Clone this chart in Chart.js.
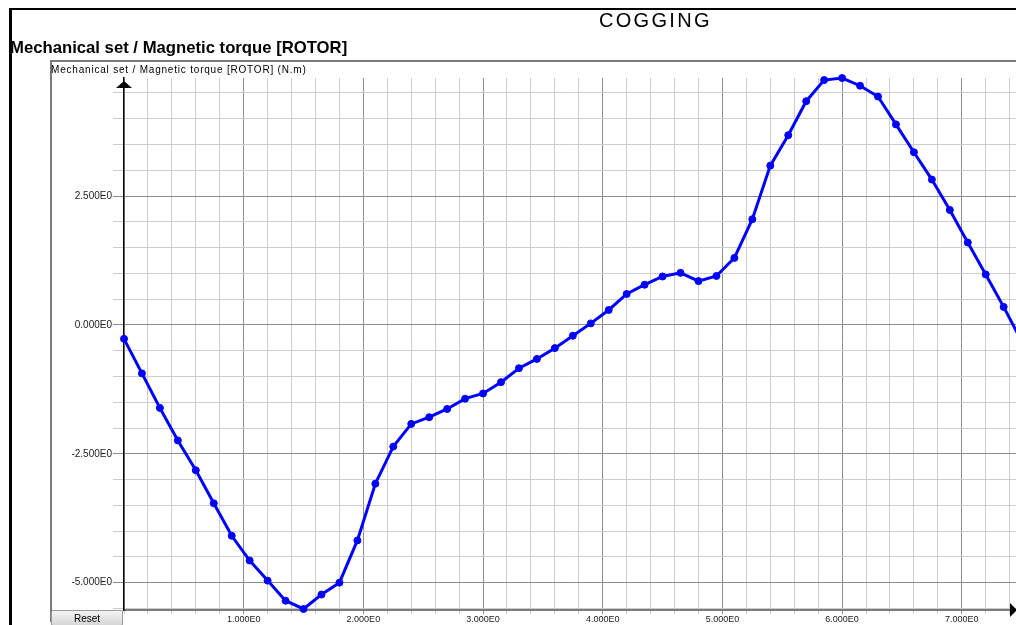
<!DOCTYPE html>
<html>
<head>
<meta charset="utf-8">
<title>COGGING</title>
<script src="https://cdn.jsdelivr.net/npm/chart.js@4.4.1/dist/chart.umd.min.js"></script>
<style>
    html, body { margin: 0; padding: 0; background: #fff; }
    body { width: 1016px; height: 625px; position: relative; overflow: hidden; font-family: "Liberation Sans", Arial, sans-serif; }
    #frame { position: absolute; left: 9px; top: 8px; width: 1100px; height: 700px; border-left: 3px solid #000; border-top: 2px solid #000; }
    #box { position: absolute; left: 50px; top: 60px; width: 1100px; height: 560px; border-left: 2px solid #7a7a7a; border-top: 2px solid #7a7a7a; }
    #cogChart { position: absolute; left: 0; top: 0; }
    .txt { position: absolute; white-space: nowrap; color: #000; }
    #mainTitle { left: 599px; top: 10px; font-size: 20px; line-height: 20px; letter-spacing: 2.3px; }
    #subTitle { left: 10px; top: 40px; font-size: 16.7px; line-height: 16px; font-weight: bold; }
    #axisTitle { left: 51px; top: 65px; font-size: 10px; line-height: 10px; letter-spacing: 0.8px; }
    #resetBtn { position: absolute; left: 51px; top: 610px; width: 72px; height: 16px; margin: 0; padding: 0;
        border: 1px solid #9a9a9a; border-radius: 2px; background: linear-gradient(#f4f4f4, #d6d6d6);
        font: 10px "Liberation Sans", Arial, sans-serif; color: #000; }
</style>
</head>
<body>
<div id="frame"></div>
<div id="box"></div>
<canvas id="cogChart" width="1016" height="625"></canvas>
<div class="txt" id="mainTitle">COGGING</div>
<div class="txt" id="subTitle">Mechanical set / Magnetic torque [ROTOR]</div>
<div class="txt" id="axisTitle">Mechanical set / Magnetic torque [ROTOR] (N.m)</div>
<button id="resetBtn">Reset</button>
<script>
// Rotor position (x) and cogging torque in N.m (y)
const angles = [
    0.00, 0.15, 0.30, 0.45, 0.60, 0.75, 0.90, 1.05, 1.20, 1.35,
    1.50, 1.65, 1.80, 1.95, 2.10, 2.25, 2.40, 2.55, 2.70, 2.85,
    3.00, 3.15, 3.30, 3.45, 3.60, 3.75, 3.90, 4.05, 4.20, 4.35,
    4.50, 4.65, 4.80, 4.95, 5.10, 5.25, 5.40, 5.55, 5.70, 5.85,
    6.00, 6.15, 6.30, 6.45, 6.60, 6.75, 6.90, 7.05, 7.20, 7.35,
    7.50
];
const torque = [
    -0.27, -0.94, -1.61, -2.24, -2.82, -3.46, -4.09, -4.57, -4.96, -5.35,
    -5.51, -5.23, -5.00, -4.18, -3.08, -2.36, -1.92, -1.79, -1.63, -1.43,
    -1.33, -1.11, -0.84, -0.66, -0.45, -0.21, 0.03, 0.29, 0.60, 0.78,
    0.94, 1.01, 0.85, 0.95, 1.30, 2.05, 3.09, 3.68, 4.34, 4.75,
    4.79, 4.64, 4.43, 3.89, 3.35, 2.82, 2.23, 1.60, 0.98, 0.35,
    -0.32
];

// Labelled (major) ticks
const xMajorTicks = [1, 2, 3, 4, 5, 6, 7];
const xTickLabels = ['1.000E0', '2.000E0', '3.000E0', '4.000E0', '5.000E0', '6.000E0', '7.000E0'];
const yMajorTicks = [-5, -2.5, 0, 2.5];
const yTickLabels = ['-5.000E0', '-2.500E0', '0.000E0', '2.500E0'];

const MAJOR_GRID = '#8c8c8c';
const MINOR_GRID = '#cdcdcd';

const findMajor = (list, v) => list.findIndex(m => Math.abs(m - v) < 1e-6);

// Axis arrows at the end of both axes
const axisArrows = {
    id: 'axisArrows',
    afterDraw(chart) {
        const { ctx, chartArea } = chart;
        ctx.save();
        ctx.fillStyle = '#000';
        // up arrow on the y axis
        ctx.beginPath();
        ctx.moveTo(chartArea.left, chartArea.top + 3);
        ctx.lineTo(chartArea.left - 8, chartArea.top + 10);
        ctx.lineTo(chartArea.left + 8, chartArea.top + 10);
        ctx.closePath();
        ctx.fill();
        // right arrow on the x axis
        ctx.beginPath();
        ctx.moveTo(chartArea.right + 1, chartArea.bottom);
        ctx.lineTo(chartArea.right - 6, chartArea.bottom - 7);
        ctx.lineTo(chartArea.right - 6, chartArea.bottom + 7);
        ctx.closePath();
        ctx.fill();
        ctx.restore();
    }
};

const ctx = document.getElementById('cogChart').getContext('2d');
new Chart(ctx, {
    type: 'line',
    data: {
        datasets: [{
            data: angles.map((a, i) => ({ x: a, y: torque[i] })),
            borderColor: '#0000ff',
            backgroundColor: '#0000ff',
            borderWidth: 3,
            tension: 0,
            pointRadius: 3.5,
            pointBorderWidth: 1,
            pointBackgroundColor: '#0000ff',
            pointBorderColor: '#0000ff',
            clip: false
        }]
    },
    options: {
        responsive: false,
        animation: false,
        devicePixelRatio: 1,
        layout: { autoPadding: false, padding: { top: 78, left: 0, right: 0, bottom: 0 } },
        plugins: {
            legend: { display: false },
            tooltip: { enabled: false },
            title: { display: false }
        },
        scales: {
            x: {
                type: 'linear',
                min: 0,
                max: 7.453,
                afterFit: (scale) => {
                    scale.height = 15;
                    scale.paddingLeft = 0;
                    scale.paddingRight = 0;
                },
                border: { color: '#7a7a7a', width: 2 },
                grid: {
                    color: (c) => findMajor(xMajorTicks, c.tick.value) >= 0 ? MAJOR_GRID : MINOR_GRID,
                    tickLength: 4,
                    lineWidth: 1
                },
                ticks: {
                    stepSize: 0.2,
                    includeBounds: false,
                    autoSkip: false,
                    maxRotation: 0,
                    minRotation: 0,
                    padding: 0,
                    color: '#222',
                    font: { family: '"Liberation Sans", Arial, sans-serif', size: 9 },
                    callback: (v) => {
                        const i = findMajor(xMajorTicks, v);
                        return i >= 0 ? xTickLabels[i] : '';
                    }
                }
            },
            y: {
                type: 'linear',
                min: -5.53,
                max: 4.79,
                afterFit: (scale) => { scale.width = 124; },
                border: { color: '#000', width: 1.5 },
                grid: {
                    color: (c) => findMajor(yMajorTicks, c.tick.value) >= 0 ? MAJOR_GRID : MINOR_GRID,
                    tickLength: 11,
                    lineWidth: 1
                },
                ticks: {
                    stepSize: 0.5,
                    includeBounds: false,
                    autoSkip: false,
                    padding: 1,
                    color: '#222',
                    font: { family: '"Liberation Sans", Arial, sans-serif', size: 10 },
                    callback: (v) => {
                        const i = findMajor(yMajorTicks, v);
                        return i >= 0 ? yTickLabels[i] : '';
                    }
                }
            }
        }
    },
    plugins: [axisArrows]
});
</script>
</body>
</html>
